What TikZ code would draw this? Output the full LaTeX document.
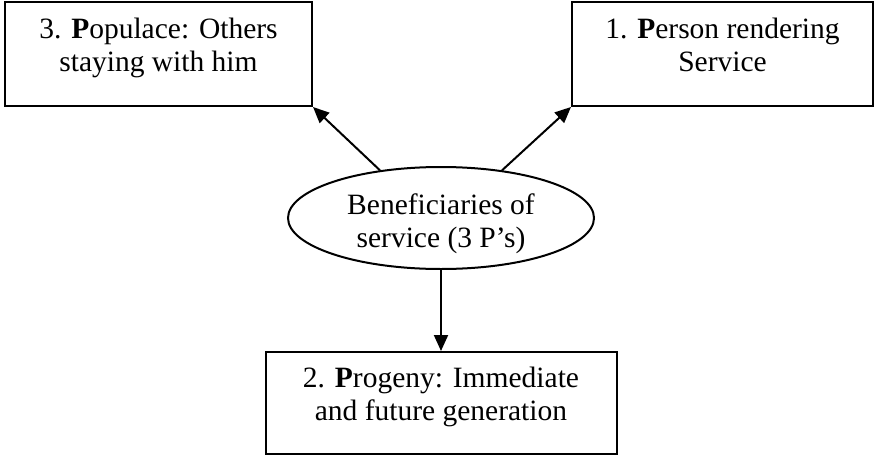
\documentclass[tikz,border=0pt]{standalone}
\usepackage{fontspec}
\setmainfont{Liberation Serif}
\usetikzlibrary{shapes.geometric,arrows.meta}
\begin{document}
\begin{tikzpicture}[x=1pt,y=-1pt,
  frame/.style={draw,line width=2pt,inner sep=0pt},
  lbl/.style={align=center,inner sep=0pt,font=\fontsize{29.5}{33}\selectfont},
  arr/.style={line width=2pt,-{Triangle[length=16pt,width=14pt]}}]
\useasboundingbox (0,0) rectangle (877,460);
% the three P's
\node[frame,minimum width=307pt,minimum height=104pt] (b3) at (158.5,54) {};
\node[frame,minimum width=301pt,minimum height=104pt] (b1) at (722.5,54) {};
\node[frame,minimum width=351pt,minimum height=102pt] (b2) at (441,403) {};
\node[lbl] (t3) at (158.5,48.4) {\strut 3. \textbf{P}opulace: Others\\\strut staying with him};
\node[lbl] (t1) at (722.5,48.4) {\strut 1. \textbf{P}erson rendering\\\strut Service};
\node[lbl] (t2) at (441,397.4) {\strut 2. \textbf{P}rogeny: Immediate\\\strut and future generation};
% centre
\node[frame,ellipse,minimum width=306pt,minimum height=102pt] (e) at (441,218) {};
\node[lbl] (te) at (441,224.4) {\strut Beneficiaries of\\\strut service (3 P’s)};
% arrows
\draw[arr] (e.142) -- (b3.south east);
\draw[arr] (e.38) -- (b1.south west);
\draw[arr] (e.south) -- (b2.north);
\end{tikzpicture}
\end{document}
